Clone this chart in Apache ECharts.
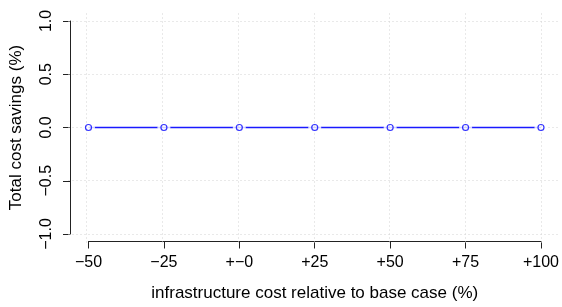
<!DOCTYPE html>
<html>
<head>
<meta charset="utf-8">
<script src="https://cdn.jsdelivr.net/npm/echarts@6/dist/echarts.min.js"></script>
<style>
  html, body { margin: 0; padding: 0; background: #fff; }
  #chart { width: 562px; height: 307px; }
</style>
</head>
<body>
<div id="chart"></div>
<script>
// infrastructure cost change (%) and resulting savings
const costChange = [-50, -25, 0, 25, 50, 75, 100]
const savings = [0, 0, 0, 0, 0, 0, 0]
const xTicks = [-50, -25, 0, 25, 50, 75, 100]
const xTickLabels = ['\u221250', '\u221225', '+\u22120', '+25', '+50', '+75', '+100']
const yTicks = [-1, -0.5, 0, 0.5, 1]
const yTickLabels = ['\u22121.0', '\u22120.5', '0.0', '0.5', '1.0']

const font = 'Liberation Sans, Arial, Helvetica, sans-serif'
const chart = echarts.init(document.getElementById('chart'))

const points = costChange.map((x, i) => [x, savings[i]])

// grid lines (R grid(): lightgray dotted) across the whole plot region
function gridSeries(data, z) {
  return {
    type: 'line',
    xAxisIndex: 0,
    yAxisIndex: 0,
    data: [],
    silent: true,
    z: z,
    markLine: {
      z: z,
      silent: true,
      symbol: 'none',
      label: { show: false },
      lineStyle: { color: '#d3d3d3', type: [1, 3], width: 1 },
      data: data
    }
  }
}

chart.setOption({
  animation: false,
  backgroundColor: '#fff',
  grid: [
    // full plot region (data range + 4%)
    { left: 68.5, right: 3, top: 12.5, bottom: 64.5 },
    // tick span, used for the axes and the points
    { left: 87, right: 21, top: 21, bottom: 73 }
  ],
  xAxis: [
    { gridIndex: 0, type: 'value', min: -56, max: 106, show: false },
    {
      gridIndex: 1,
      type: 'value',
      min: -50,
      max: 100,
      interval: 25,
      position: 'bottom',
      offset: 7.5,
      axisLine: { show: true, onZero: false, lineStyle: { color: '#222', width: 1 } },
      axisTick: { show: true, length: 7, lineStyle: { color: '#222' } },
      axisLabel: {
        color: '#000',
        fontFamily: font,
        fontSize: 16,
        margin: 13,
        formatter: v => xTickLabels[xTicks.indexOf(v)]
      },
      splitLine: { show: false },
      name: 'infrastructure cost relative to base case (%)',
      nameLocation: 'middle',
      nameGap: 43,
      nameTextStyle: { color: '#000', fontFamily: font, fontSize: 17 }
    }
  ],
  yAxis: [
    { gridIndex: 0, type: 'value', min: -1.08, max: 1.08, show: false },
    {
      gridIndex: 1,
      type: 'value',
      min: -1,
      max: 1,
      interval: 0.5,
      position: 'left',
      offset: 18.5,
      axisLine: { show: true, onZero: false, lineStyle: { color: '#222', width: 1 } },
      axisTick: { show: true, length: 7, lineStyle: { color: '#222' } },
      axisLabel: {
        color: '#000',
        fontFamily: font,
        fontSize: 16,
        rotate: 90,
        margin: 15,
        formatter: v => yTickLabels[yTicks.indexOf(v)]
      },
      splitLine: { show: false },
      name: 'Total cost savings (%)',
      nameLocation: 'middle',
      nameRotate: 90,
      nameGap: 45,
      nameTextStyle: { color: '#000', fontFamily: font, fontSize: 17 }
    }
  ],
  series: [
    gridSeries(yTicks.map(v => ({ yAxis: v })), 1),
    {
      // connecting line (type "b": broken around each point)
      type: 'line',
      xAxisIndex: 1,
      yAxisIndex: 1,
      clip: false,
      z: 2,
      data: points,
      showSymbol: false,
      color: '#0000ff',
      lineStyle: { color: '#1a1aff', width: 1.4 }
    },
    {
      // white gaps around points
      type: 'scatter',
      xAxisIndex: 1,
      yAxisIndex: 1,
      clip: false,
      z: 3,
      silent: true,
      data: points,
      symbol: 'circle',
      symbolSize: 13,
      itemStyle: { color: '#fff' }
    },
    gridSeries(xTicks.map(v => ({ xAxis: v })), 4),
    {
      type: 'scatter',
      xAxisIndex: 1,
      yAxisIndex: 1,
      clip: false,
      z: 5,
      data: points,
      symbol: 'circle',
      symbolSize: 6,
      itemStyle: { color: 'rgba(0,0,0,0)', borderColor: '#0000ff', borderWidth: 1.2 }
    }
  ]
})
</script>
</body>
</html>
